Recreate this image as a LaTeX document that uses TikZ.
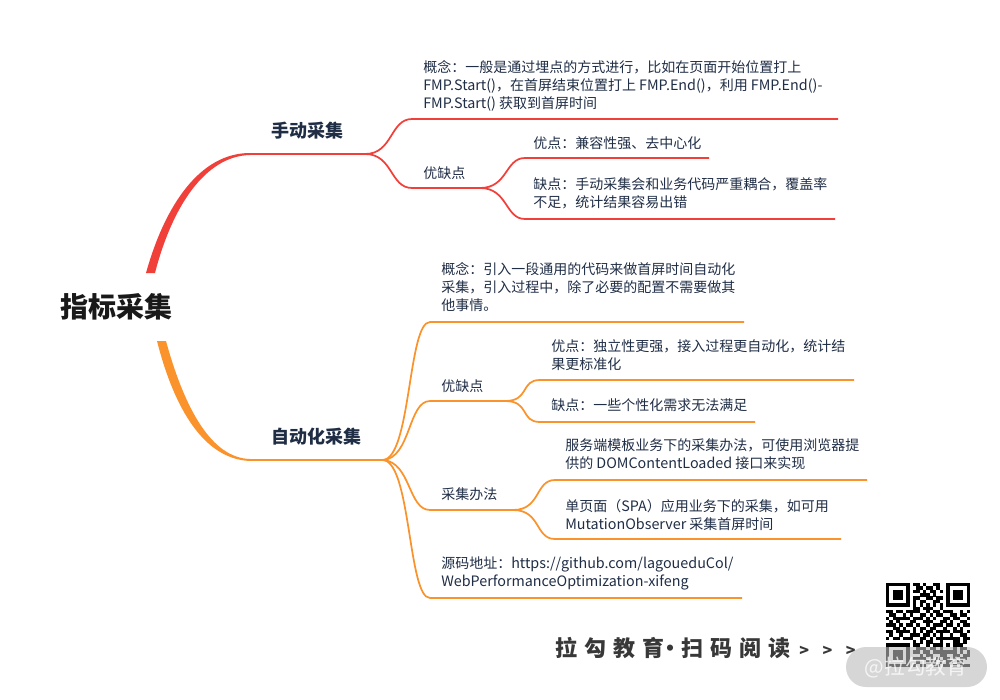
\documentclass[tikz,border=0pt]{standalone}
\usepackage{fontspec}
\setmainfont{Noto Sans CJK SC}
\newfontfamily\promofont[LetterSpace=32]{Noto Sans CJK SC}
\newfontfamily\latinfont[Scale=1.024]{Noto Sans CJK SC}
\newcommand{\lat}[1]{{\latinfont #1}}
\definecolor{redline}{HTML}{F1403A}
\definecolor{orangeline}{HTML}{FA932B}
\definecolor{inkblue}{HTML}{1F2D45}
\definecolor{markgray}{HTML}{BBBBBB}
\newcount\qrcol
\def\qrscan#1{\ifx#1.\else\if#11\fill ({886+3.36*\the\qrcol},{583+3.36*\qrrow}) rectangle +(3.44,3.44);\fi\advance\qrcol by 1 \expandafter\qrscan\fi}
\begin{document}
\begin{tikzpicture}[x=0.75pt,y=-0.75pt]
\tikzstyle{leaf}=[anchor=west,align=left,inner sep=0pt,text=inkblue,font=\fontsize{10.5}{13.5}\selectfont]
\tikzstyle{topic}=[anchor=west,inner sep=0pt,text=inkblue,font=\fontsize{13.5}{16}\selectfont\bfseries]
\tikzstyle{redbranch}=[draw=redline,line width=1.3pt]
\tikzstyle{orangebranch}=[draw=orangeline,line width=1.3pt]
\useasboundingbox (0,0) rectangle (1000,700);
\node[anchor=west,inner sep=0pt,font=\fontsize{21}{25}\selectfont\bfseries,text=black!90] at(60, 307) (root) {指标采集};
\node[topic] at(271, 131) (manual) {手动采集};
\node[topic] at(271, 437) (auto) {自动化采集};
\node[leaf] at(423, 86) (mconcept) {概念：一般是通过埋点的方式进行，比如在页面开始位置打上\\
    \lat{FMP.Start()}，在首屏结束位置打上 \lat{FMP.End()}，利用 \lat{FMP.End()-}\\
    \lat{FMP.Start()} 获取到首屏时间};
\node[leaf] at(423, 173) (mtrade) {优缺点};
\node[leaf] at(533, 143.5) (mpro) {优点：兼容性强、去中心化};
\node[leaf] at(533, 193.5) (mcon) {缺点：手动采集会和业务代码严重耦合，覆盖率\\
    不足，统计结果容易出错};
\node[leaf] at(441, 287.5) (aconcept) {概念：引入一段通用的代码来做首屏时间自动化\\
    采集，引入过程中，除了必要的配置不需要做其\\
    他事情。};
\node[leaf] at(441, 386) (atrade) {优缺点};
\node[leaf] at(551, 355.5) (apro) {优点：独立性更强，接入过程更自动化，统计结\\
    果更标准化};
\node[leaf] at(551, 405.5) (acon) {缺点：一些个性化需求无法满足};
\node[leaf] at(441, 494.5) (amethod) {采集办法};
\node[leaf] at(565, 454.5) (aserver) {服务端模板业务下的采集办法，可使用浏览器提\\
    供的 \lat{DOMContentLoaded} 接口来实现};
\node[leaf] at(565, 515.5) (aspa) {单页面（\lat{SPA}）应用业务下的采集，如可用\\
    \lat{MutationObserver} 采集首屏时间};
\node[leaf] at(441, 573.5) (asource) {源码地址：\lat{https://github.com/lagoueduCol/}\\
    \lat{WebPerformanceOptimization-xifeng}};
\coordinate (mhub) at(365, 154);
\coordinate (mtradehub) at(480, 188);
\coordinate (ahub) at(383, 460);
\coordinate (atradehub) at(505, 401);
\coordinate (amethodhub) at(513, 510);
\fill[redline] (146, 273) .. controls (165, 205) and (200, 153) .. (250, 153) -- (250, 155) .. controls (205, 156) and (172, 207) .. (155, 273) -- cycle;
\fill[orangeline] (157, 341) .. controls (172, 400) and (200, 459) .. (250, 461) -- (250, 459) .. controls (212, 458) and (185, 410) .. (166, 341) -- cycle;
\draw[redbranch] (248, 154) -- (mhub);
\draw[orangebranch] (248, 460) -- (ahub);
\draw[redbranch] (mhub) .. controls +(28, 0) and +(-22, 0) .. (412, 119) -- (838, 119);
\draw[redbranch] (mhub) .. controls +(28, 0) and +(-22, 0) .. (412, 188) -- (mtradehub);
\draw[redbranch] (mtradehub) .. controls +(28, 0) and +(-20, 0) .. (525, 158) -- (709, 158);
\draw[redbranch] (mtradehub) .. controls +(28, 0) and +(-20, 0) .. (525, 219) -- (835, 219);
\draw[orangebranch] (ahub) .. controls +(28, -2) and +(-22, 0) .. (430, 322) -- (744, 322);
\draw[orangebranch] (ahub) .. controls +(28, -2) and +(-22, 0) .. (430, 401) -- (atradehub);
\draw[orangebranch] (ahub) .. controls +(28, 2) and +(-22, 0) .. (430, 510) -- (amethodhub);
\draw[orangebranch] (ahub) .. controls +(28, 2) and +(-22, 0) .. (430, 598) -- (742, 598);
\draw[orangebranch] (atradehub) .. controls +(25, 0) and +(-20, 0) .. (540, 380) -- (854, 380);
\draw[orangebranch] (atradehub) .. controls +(25, 0) and +(-20, 0) .. (540, 422) -- (755, 422);
\draw[orangebranch] (amethodhub) .. controls +(28, 0) and +(-20, 0) .. (555, 480) -- (867, 480);
\draw[orangebranch] (amethodhub) .. controls +(28, 0) and +(-20, 0) .. (555, 539) -- (841, 539);
\node[anchor=west,inner sep=0pt,text=black!78,font=\promofont\fontsize{16.5}{20}\selectfont\bfseries] at(555, 648) (promo) {拉勾教育\hspace{-3.75pt}·\hspace{0pt}扫码阅读};
\node[anchor=west,inner sep=0pt,text=black!78,font=\fontsize{12}{14}\selectfont\bfseries] at(799, 651) (chevrons) {>\hspace{10.2pt}>\hspace{10.2pt}>};
\foreach \qrbits [count=\qrrow from 0] in {1111111011010011001111111,1000001001101101001000001,1011101011010110101011101,1011101000111010001011101,1011101011001101101011101,1000001010110011001000001,1111111010101010101111111,0000000011011100100000000,1101101111001011011100101,0110010100110101100110110,1011111011101010011011001,0101000110011100110100110,1110101101001011101101011,0011010010110110010010100,1101111010101101111011101,0100100111011010100100110,1011011100110101111111011,0000000010101100100011010,1111111011001011101011100,1000001001110110100010110,1011101011011011111110101,1011101000101100110011011,1011101011110101011010110,1000001001001110101101100,1111111010110011011010111}
  {\qrcol=0 \expandafter\qrscan\qrbits.}
\fill[markgray,fill opacity=0.6,rounded corners=15pt] (846, 647) rectangle (987, 687);
\node[text=white,text opacity=0.75,inner sep=0pt,font=\fontsize{15.5}{18}\selectfont] at(916, 668) (mark) {@拉勾教育};
\end{tikzpicture}
\end{document}
